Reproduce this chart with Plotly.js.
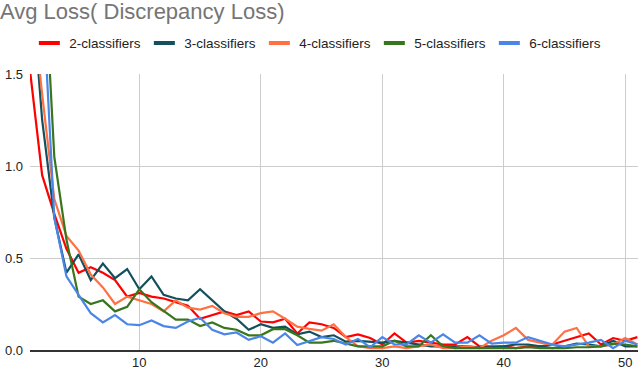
<!DOCTYPE html>
<html>
<head>
<meta charset="utf-8">
<script src="https://cdn.plot.ly/plotly-3.0.1.min.js"></script>
<style>html,body{margin:0;padding:0;background:#fff}#chart{width:638px;height:370px}</style>
</head>
<body>
<div id="chart"></div>
<script>
var chartTitle = 'Avg Loss( Discrepancy Loss)';
var epochs = [1,2,3,4,5,6,7,8,9,10,11,12,13,14,15,16,17,18,19,20,21,22,23,24,25,26,27,28,29,30,31,32,33,34,35,36,37,38,39,40,41,42,43,44,45,46,47,48,49,50,51];
var seriesNames = ['2-classifiers','3-classifiers','4-classifiers','5-classifiers','6-classifiers'];
var twoClassifiers = [1.52,0.95,0.74,0.55,0.42,0.45,0.42,0.38,0.29,0.31,0.29,0.28,0.26,0.24,0.17,0.19,0.21,0.19,0.21,0.155,0.15,0.17,0.09,0.15,0.14,0.12,0.07,0.085,0.065,0.03,0.09,0.04,0.05,0.04,0.03,0.03,0.07,0.02,0.02,0.02,0.01,0.02,0.02,0.03,0.05,0.07,0.09,0.03,0.065,0.05,0.07];
var threeClassifiers = [2.1,1.25,0.72,0.42,0.52,0.38,0.47,0.39,0.44,0.33,0.40,0.30,0.28,0.27,0.33,0.27,0.21,0.17,0.11,0.14,0.12,0.127,0.085,0.10,0.07,0.08,0.045,0.05,0.045,0.04,0.05,0.04,0.03,0.02,0.02,0.02,0.02,0.015,0.015,0.02,0.03,0.03,0.02,0.01,0.02,0.035,0.03,0.02,0.05,0.02,0.02];
var fourClassifiers = [2.0,1.39,0.82,0.62,0.54,0.41,0.34,0.25,0.29,0.27,0.25,0.21,0.27,0.23,0.22,0.24,0.20,0.18,0.18,0.20,0.21,0.17,0.127,0.115,0.105,0.14,0.07,0.02,0.01,0.01,0.02,0.01,0.02,0.03,0.01,0.01,0.02,0.01,0.05,0.08,0.12,0.055,0.04,0.03,0.10,0.12,0.02,0.02,0.03,0.065,0.03];
var fiveClassifiers = [3.2,2.3,1.05,0.60,0.29,0.25,0.27,0.21,0.235,0.33,0.26,0.21,0.165,0.165,0.13,0.15,0.12,0.11,0.08,0.08,0.113,0.113,0.08,0.04,0.04,0.05,0.035,0.02,0.02,0.02,0.05,0.02,0.02,0.08,0.02,0.01,0.01,0.01,0.01,0.01,0.01,0.015,0.01,0.01,0.01,0.015,0.015,0.02,0.035,0.03,0.02];
var sixClassifiers = [3.5,2.0,0.72,0.40,0.30,0.20,0.15,0.19,0.14,0.135,0.16,0.13,0.12,0.155,0.175,0.11,0.085,0.095,0.055,0.075,0.04,0.09,0.027,0.05,0.07,0.06,0.03,0.06,0.015,0.07,0.03,0.03,0.08,0.04,0.085,0.04,0.04,0.08,0.035,0.04,0.04,0.07,0.05,0.03,0.02,0.03,0.04,0.055,0.01,0.05,0.03];
var yTickVals = [0, 0.5, 1.0, 1.5];
var yTickText = ['0.0', '0.5', '1.0', '1.5'];
var xTickVals = [10, 20, 30, 40, 50];

var seriesValues = [twoClassifiers, threeClassifiers, fourClassifiers, fiveClassifiers, sixClassifiers];
var colors = ['#ff0000', '#134f5c', '#ff7043', '#38761d', '#4a86e8'];

var traces = [];
seriesValues.forEach(function (vals, i) {
  traces.push({
    x: epochs, y: vals, type: 'scatter', mode: 'lines', name: seriesNames[i],
    line: {color: colors[i], width: 2.2}, showlegend: false, hoverinfo: 'x+y'
  });
});
seriesValues.forEach(function (vals, i) {
  traces.push({
    x: [null], y: [null], type: 'scatter', mode: 'markers', name: seriesNames[i],
    marker: {symbol: 'line-ew', size: 15, color: colors[i], line: {color: colors[i], width: 4}},
    showlegend: true
  });
});

var layout = {
  width: 638, height: 370,
  paper_bgcolor: '#fff', plot_bgcolor: '#fff',
  margin: {l: 30, r: 0, t: 74, b: 20, pad: 0},
  font: {family: 'Arial, "Liberation Sans", sans-serif', color: '#222', size: 13},
  title: {
    text: chartTitle, x: 0, xref: 'container', xanchor: 'left',
    y: 0.99, yref: 'container', yanchor: 'top',
    font: {size: 22, color: '#757575', family: 'Arial, "Liberation Sans", sans-serif'}
  },
  legend: {
    orientation: 'h', xref: 'container', yref: 'container',
    x: 0.046, xanchor: 'left', y: 0.925, yanchor: 'top',
    font: {size: 13.5, color: '#222'}, entrywidth: 70, bgcolor: 'rgba(0,0,0,0)'
  },
  xaxis: {
    range: [1, 51.05], tickvals: xTickVals, showgrid: true, gridcolor: '#cccccc', gridwidth: 1,
    zeroline: false, showline: true, linecolor: '#333', linewidth: 1.5,
    ticks: '', ticklabelstandoff: 0, tickfont: {size: 13, color: '#222'}
  },
  yaxis: {
    range: [0, 1.5], tickvals: yTickVals, ticktext: yTickText, showgrid: true, gridcolor: '#cccccc', gridwidth: 1,
    zeroline: false, showline: false, ticks: '', ticklabelstandoff: 6, tickfont: {size: 13, color: '#222'}
  },
  showlegend: true
};

Plotly.newPlot('chart', traces, layout, {displayModeBar: false, staticPlot: true});
</script>
</body>
</html>
